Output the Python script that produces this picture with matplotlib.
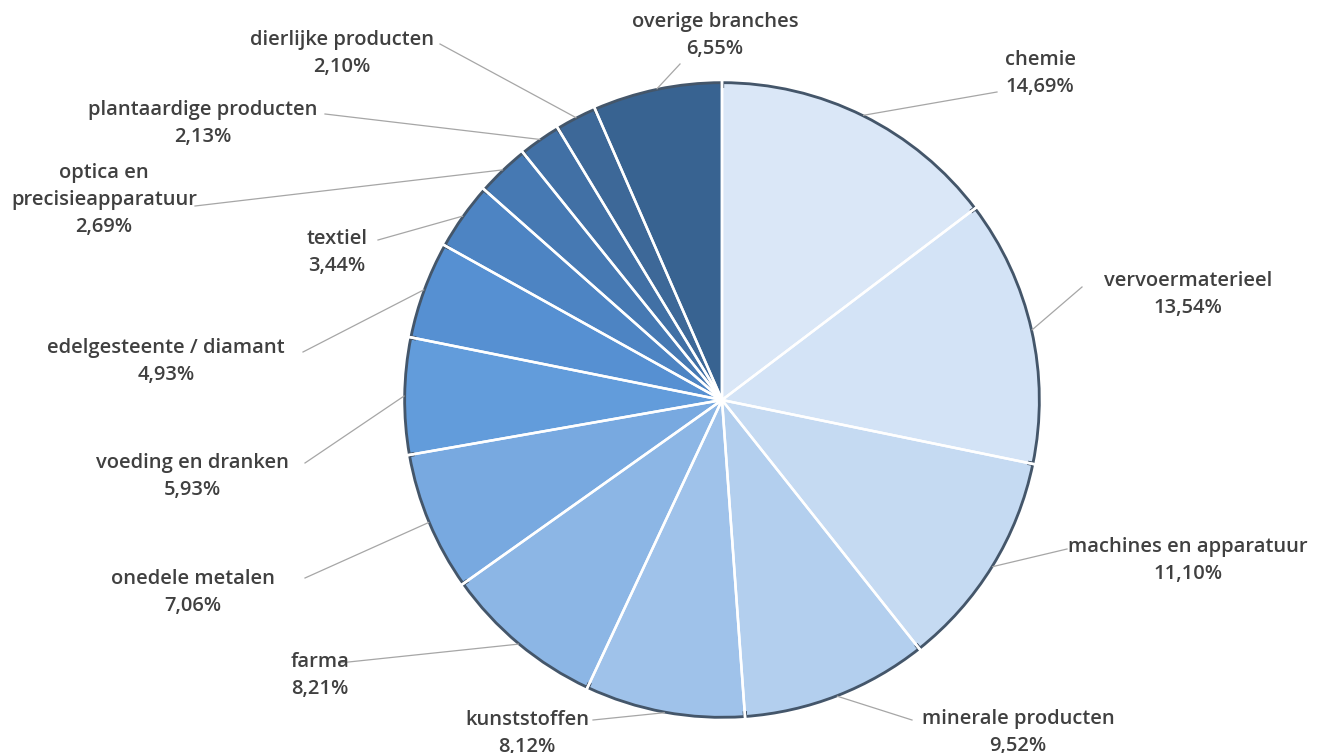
import matplotlib.pyplot as plt
import numpy as np

labels = ["chemie", "vervoermaterieel", "machines en apparatuur", "minerale producten",
          "kunststoffen", "farma", "onedele metalen", "voeding en dranken",
          "edelgesteente / diamant", "textiel", "optica en\nprecisieapparatuur",
          "plantaardige producten", "dierlijke producten", "overige branches"]
values = [14.69, 13.54, 11.10, 9.52, 8.12, 8.21, 7.06, 5.93, 4.93, 3.44, 2.69, 2.13, 2.10, 6.55]
colors = ["#dae7f7", "#d3e3f6", "#c5daf2", "#b3cfee", "#9fc2ea", "#8cb6e5", "#78a9e0",
          "#629cdb", "#5690d2", "#4d84c3", "#4679b3", "#4170a5", "#3d6898", "#386391"]

# text centre of first line (pixels) and where the leader line starts
label_pos = [(1040, 58), (1188, 279), (1188, 545), (1018, 717), (527, 718), (320, 660),
             (193, 577), (192, 461), (166, 346), (337, 237), (104, 171), (203, 108),
             (342, 38), (715, 20)]
leader_start = [(997, 92), (1082, 287), (1067, 549), (912, 720), (593, 720), (339, 663),
                (305, 578), (305, 463), (303, 352), (378, 240), (195, 206), (325, 114),
                (440, 44), (680, 64)]

W, H = 1323, 753
cx, cy, R = 722, H - 400, 318

fig = plt.figure(figsize=(W / 100, H / 100), dpi=100)
ax = fig.add_axes([0, 0, 1, 1])

# dark rim for a bevel look, then lighter face on top, then white gaps
ax.pie(values, colors=colors, startangle=90, counterclock=False, center=(cx, cy), radius=R,
       wedgeprops=dict(edgecolor="#44566a", linewidth=3), frame=True)
ax.pie(values, colors=colors, startangle=90, counterclock=False, center=(cx, cy), radius=R - 6,
       wedgeprops=dict(edgecolor="none"), frame=True)
ax.pie(values, colors=["none"] * len(values), startangle=90, counterclock=False,
       center=(cx, cy), radius=R + 2, wedgeprops=dict(edgecolor="white", linewidth=1.8), frame=True)
ax.set_xlim(0, W)
ax.set_ylim(0, H)
ax.set_aspect("equal")
ax.axis("off")

cum = np.cumsum([0] + values[:-1])
for lab, v, c, (tx, ty), (sx, sy) in zip(labels, values, cum, label_pos, leader_start):
    theta = np.deg2rad(90 - 360 * (c + v / 2) / sum(values))
    ex, ey = cx + R * np.cos(theta), cy + R * np.sin(theta)
    ax.plot([sx, ex], [H - sy, ey], color="#a6a6a6", lw=0.9)
    txt = lab + "\n" + f"{v:.2f}%".replace(".", ",")
    ax.text(tx, H - ty + 8, txt, ha="center", va="top", fontsize=14.5, family="Open Sans",
            fontweight="semibold", color="#404040", linespacing=1.45)

fig.savefig("out.png", dpi=100, facecolor="white")
